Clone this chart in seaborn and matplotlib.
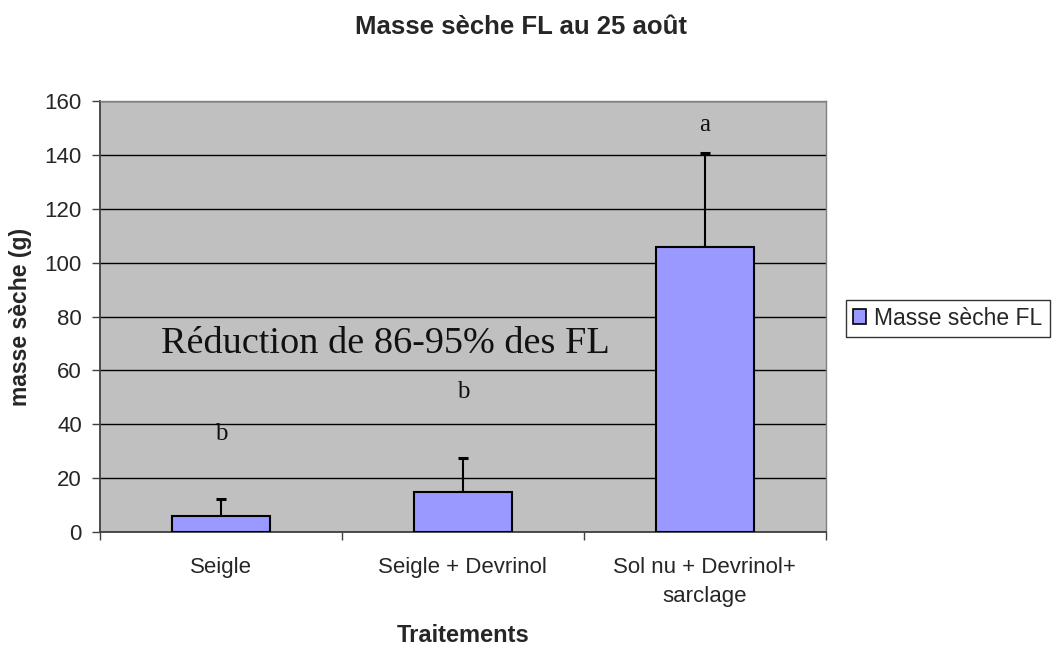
import matplotlib
matplotlib.use("Agg")
import matplotlib.pyplot as plt
import seaborn as sns
import pandas as pd
import numpy as np
from matplotlib.patches import Patch
from matplotlib.ticker import FixedLocator

categories = ["Seigle", "Seigle + Devrinol", "Sol nu + Devrinol+\nsarclage"]
masse = [5.9, 14.9, 106.0]
erreur = [6.3, 12.4, 34.8]
lettres = ["b", "b", "a"]
lettre_y = [36.5, 52.0, 151.0]
yticks = [0, 20, 40, 60, 80, 100, 120, 140, 160]

sns.set_theme(style="white")
plt.rcParams['font.family'] = ['Liberation Sans', 'DejaVu Sans']

df = pd.DataFrame({"Traitements": categories, "masse": masse})

fig = plt.figure(figsize=(10.52, 6.48), dpi=100)
ax = fig.add_axes([0.095, 0.179, 0.69, 0.665])
ax.set_facecolor("#C0C0C0")

sns.barplot(data=df, x="Traitements", y="masse", color="#9999FF",
            edgecolor="black", linewidth=1.5, width=0.405, saturation=1,
            errorbar=None, ax=ax, zorder=3)
x = np.arange(len(categories))
ax.errorbar(x, masse, yerr=[np.zeros(len(erreur)), erreur], fmt="none",
            ecolor="black", elinewidth=1.5, capsize=3.8, capthick=2.2, zorder=2.5)

ax.set_xlim(-0.5, len(categories) - 0.5)
ax.set_ylim(0, 160)
ax.set_yticks(yticks)
ax.set_yticklabels([str(t) for t in yticks], fontsize=16)
ax.yaxis.grid(True, color="black", linewidth=1)
ax.set_axisbelow(True)
ax.set_xticks(x)
ax.set_xticklabels(categories, fontsize=16, linespacing=1.5)
ax.tick_params(axis="x", which="major", length=0, pad=18)
ax.xaxis.set_minor_locator(FixedLocator(np.arange(-0.5, len(categories), 1.0)))
ax.tick_params(axis="x", which="minor", length=6, width=1, color="#404040", bottom=True)
ax.tick_params(axis="y", which="major", length=6, width=1, color="#404040", left=True, pad=7)
for s in ["left", "bottom"]:
    ax.spines[s].set_color("#404040")
    ax.spines[s].set_linewidth(1.3)
for s in ["top", "right"]:
    ax.spines[s].set_color("#808080")
    ax.spines[s].set_linewidth(1)

for xi, yl, l in zip(x, lettre_y, lettres):
    ax.text(xi, yl, l, ha="center", va="center", fontsize=18,
            family=["Liberation Serif", "DejaVu Serif"], color="#111111")

ax.text(0.68, 70, "Réduction de 86-95% des FL", ha="center", va="center",
        fontsize=27.5, family=["Liberation Serif", "DejaVu Serif"], color="#111111")

ax.set_xlabel("Traitements", fontsize=17, fontweight="bold", labelpad=12)
ax.set_ylabel("masse sèche (g)", fontsize=16.5, fontweight="bold", labelpad=9)
fig.text(0.495, 0.958, "Masse sèche FL au 25 août", ha="center", va="center",
         fontsize=18.5, fontweight="bold")

handle = Patch(facecolor="#9999FF", edgecolor="black", linewidth=1.2)
leg = fig.legend([handle], ["Masse sèche FL"], loc="center left",
                 bbox_to_anchor=(0.804, 0.509), fontsize=16.5, frameon=True,
                 fancybox=False, edgecolor="black", handlelength=0.6,
                 handleheight=0.6, handletextpad=0.35, borderpad=0.3,
                 borderaxespad=0)
leg.get_frame().set_linewidth(1)

fig.savefig("out.png", dpi=100, facecolor="white")
